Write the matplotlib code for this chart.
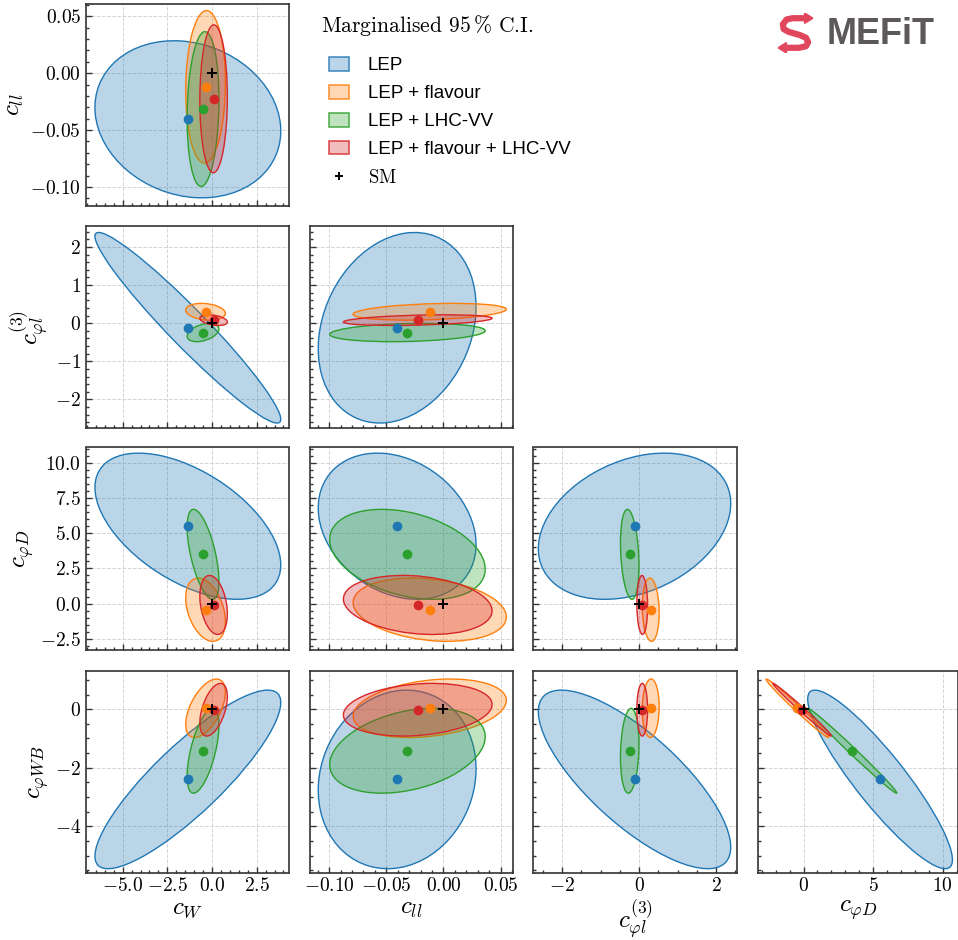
import numpy as np
import matplotlib
matplotlib.use("Agg")
import matplotlib.pyplot as plt
import matplotlib.transforms as transforms
from matplotlib.patches import Ellipse, Patch, Polygon
from matplotlib.lines import Line2D
from matplotlib.colors import to_rgba
from matplotlib.ticker import MultipleLocator, AutoMinorLocator

plt.rcParams["mathtext.fontset"] = "cm"
plt.rcParams["font.family"] = "serif"
plt.rcParams["font.serif"] = ["cmr10", "DejaVu Serif"]
plt.rcParams["axes.formatter.use_mathtext"] = True

# coefficients (order of the corner plot)
coeffs = ["cW", "cll", "cphil3", "cphiD", "cphiWB"]
coeff_labels = [r"$c_{W}$", r"$c_{ll}$", r"$c_{\varphi l}^{(3)}$",
                r"$c_{\varphi D}$", r"$c_{\varphi WB}$"]

fit_names = ["LEP", "LEP + flavour", "LEP + LHC-VV", "LEP + flavour + LHC-VV"]
fit_colors = ["tab:blue", "tab:orange", "tab:green", "tab:red"]

# best fit (mean) per coefficient
mean_lep = [-1.35, -0.0405, -0.12, 5.5, -2.4]
mean_flav = [-0.36, -0.012, 0.30, -0.44, 0.03]
mean_vv = [-0.50, -0.0315, -0.245, 3.5, -1.42]
mean_all = [0.09, -0.0225, 0.08, -0.10, -0.02]

# half size of the marginalised 95% interval per coefficient
half_lep = [5.2, 0.069, 2.5, 5.2, 3.05]
half_flav = [1.11, 0.067, 0.22, 2.25, 1.0]
half_vv = [0.89, 0.068, 0.24, 3.2, 1.45]
half_all = [0.77, 0.065, 0.14, 2.1, 0.9]

# correlations, pairs in order (W,ll) (W,phil3) (W,phiD) (W,phiWB) (ll,phil3)
# (ll,phiD) (ll,phiWB) (phil3,phiD) (phil3,phiWB) (phiD,phiWB)
corr_lep = [-0.15, -0.96, -0.53, 0.86, 0.22, -0.25, 0.12, 0.31, -0.76, -0.90]
corr_flav = [0.05, -0.20, -0.37, 0.55, 0.30, -0.23, 0.27, -0.10, 0.05, -0.99]
corr_vv = [0.12, 0.40, -0.60, 0.60, 0.20, -0.33, 0.33, -0.25, 0.15, -0.994]
corr_all = [0.02, -0.35, -0.30, 0.50, 0.35, -0.20, 0.20, -0.05, 0.0, -0.993]

sm_point = [0, 0, 0, 0, 0]

means = [mean_lep, mean_flav, mean_vv, mean_all]
halves = [half_lep, half_flav, half_vv, half_all]
corrs = [corr_lep, corr_flav, corr_vv, corr_all]

pairs = [(a, b) for a in range(5) for b in range(a + 1, 5)]

lims = [(-7.05, 4.31), (-0.1167, 0.0608), (-2.75, 2.55), (-3.27, 11.1), (-5.58, 1.32)]
xstep = [2.5, 0.05, 2, 5]
ystep = [0.05, 1, 2.5, 2]

W, H = 958, 940
fig = plt.figure(figsize=(W / 100, H / 100), dpi=100)

col_left = [86, 310, 533.3, 758]
col_w = [203, 203, 204, 200]
row_top = [4, 226, 447.5, 670.5]
row_h = 202


def conf_ellipse(ax, mx, my, hx, hy, rho, color):
    ell = Ellipse((0, 0), width=2 * np.sqrt(1 + rho), height=2 * np.sqrt(1 - rho),
                  facecolor=to_rgba(color, 0.3), edgecolor=color, lw=1.0)
    tr = transforms.Affine2D().rotate_deg(45).scale(hx, hy).translate(mx, my)
    ell.set_transform(tr + ax.transData)
    ax.add_patch(ell)


for i in range(4):
    for j in range(i + 1):
        iy = i + 1
        ix = j
        ax = fig.add_axes([col_left[j] / W, 1 - (row_top[i] + row_h) / H,
                           col_w[j] / W, row_h / H])
        for k in range(4):
            rho = corrs[k][pairs.index((ix, iy))]
            conf_ellipse(ax, means[k][ix], means[k][iy], halves[k][ix],
                         halves[k][iy], rho, fit_colors[k])
            ax.plot(means[k][ix], means[k][iy], "o", color=fit_colors[k], ms=6, zorder=3)
        ax.plot(sm_point[ix], sm_point[iy], "+", color="k", ms=7, mew=1.4, zorder=4)

        ax.set_xlim(lims[ix])
        ax.set_ylim(lims[iy])
        ax.xaxis.set_major_locator(MultipleLocator(xstep[j]))
        ax.yaxis.set_major_locator(MultipleLocator(ystep[i]))
        ax.xaxis.set_minor_locator(AutoMinorLocator())
        ax.yaxis.set_minor_locator(AutoMinorLocator())
        ax.grid(True, which="major", ls="--", lw=0.7, color="#d3d3d3")
        ax.set_axisbelow(True)
        ax.tick_params(which="both", direction="in", top=False, right=False,
                       labelsize=14, color="#333333")
        ax.tick_params(which="major", length=4, width=1)
        ax.tick_params(which="minor", length=2, width=1)
        for sp in ax.spines.values():
            sp.set_color("#333333")
            sp.set_linewidth(1.2)
        if j == 0:
            ax.set_ylabel(coeff_labels[iy], fontsize=18, labelpad=3)
        else:
            ax.tick_params(labelleft=False)
        if i == 3:
            ax.set_xlabel(coeff_labels[ix], fontsize=18, labelpad=2)
        else:
            ax.tick_params(labelbottom=False)

# legend
fig.text(320.7 / W, 1 - 25 / H, r"Marginalised 95$\,$% C.I.",
         fontsize=15.5, va="center", ha="left", family="cmr10")
handles = [Patch(facecolor=to_rgba(c, 0.3), edgecolor=to_rgba(c, 0.8), lw=1.2)
           for c in fit_colors]
handles.append(Line2D([], [], ls="", marker="+", color="k", ms=6, mew=1.4))
fig.legend(handles, fit_names + [r"$\mathrm{SM}$"], loc="upper left",
           bbox_to_anchor=(329 / W, 1 - 57 / H), frameon=False,
           prop={"family": "Liberation Sans", "size": 13.5},
           handlelength=1.07, handleheight=0.75, handletextpad=1.0,
           labelspacing=0.56, borderaxespad=0, borderpad=0)

# SMEFiT logo
lax = fig.add_axes([778 / W, 1 - 53 / H, 35 / W, 40 / H])
lax.set_xlim(0, 1)
lax.set_ylim(0, 1)
lax.axis("off")
red = "#e0475c"
path_x = [0.80, 0.42, 0.25, 0.14, 0.16, 0.30, 0.62, 0.80, 0.86, 0.80, 0.60, 0.20]
path_y = [0.87, 0.87, 0.84, 0.72, 0.60, 0.53, 0.45, 0.38, 0.27, 0.17, 0.13, 0.13]
lax.plot(path_x, path_y, color=red, lw=4.5, solid_joinstyle="round")
lax.add_patch(Polygon([[1.0, 0.87], [0.76, 1.0], [0.76, 0.74]], color=red))
lax.add_patch(Polygon([[0.0, 0.13], [0.24, 0.26], [0.24, 0.0]], color=red))
fig.text(827 / W, 1 - 34 / H, "MEFiT", fontsize=26, fontweight="bold",
         color="#5d5959", va="center", ha="left", family="Liberation Sans")

fig.savefig("out.png", dpi=100)
